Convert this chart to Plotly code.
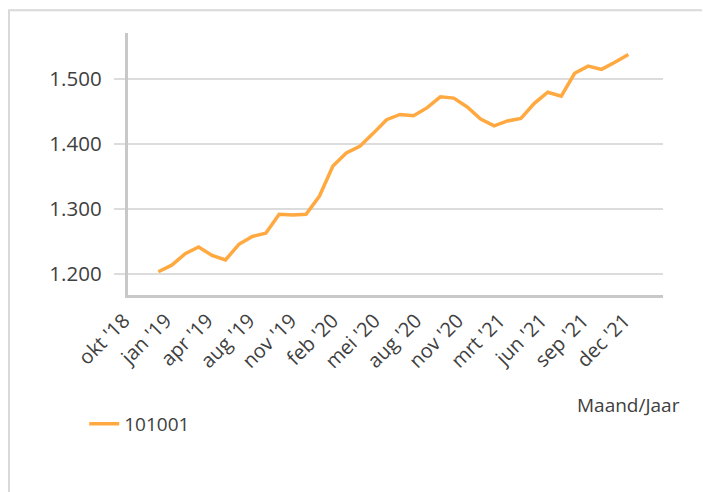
import plotly.graph_objects as go

months = ["jan '19", "feb '19", "mrt '19", "apr '19", "mei '19", "jun '19", "jul '19", "aug '19", "sep '19", "okt '19", "nov '19", "dec '19",
          "jan '20", "feb '20", "mrt '20", "apr '20", "mei '20", "jun '20", "jul '20", "aug '20", "sep '20", "okt '20", "nov '20", "dec '20",
          "jan '21", "feb '21", "mrt '21", "apr '21", "mei '21", "jun '21", "jul '21", "aug '21", "sep '21", "okt '21", "nov '21", "dec '21"]
values = [1204, 1214, 1231.5, 1242, 1229, 1222, 1246, 1258, 1263, 1292, 1291, 1292,
          1320, 1366, 1386, 1396, 1416, 1437, 1445, 1443, 1455, 1472, 1470, 1456.5,
          1438, 1427.5, 1435, 1439, 1462, 1479, 1473, 1508, 1519, 1514, 1525, 1537]
axis_labels = ["okt '18", "jan '19", "apr '19", "aug '19", "nov '19", "feb '20", "mei '20",
               "aug '20", "nov '20", "mrt '21", "jun '21", "sep '21", "dec '21"]
series_name = "101001"
x_title = "Maand/Jaar"

FONT = "Open Sans, Noto Sans, sans-serif"
TXT = "#404040"
label_pos = list(range(len(axis_labels)))

fig = go.Figure()
# empty helper trace so the label axis (x2/y2) gets drawn
fig.add_trace(go.Scatter(x=label_pos, y=[None] * len(label_pos), xaxis="x2", yaxis="y2",
                         mode="lines", showlegend=False, hoverinfo="skip"))
fig.add_trace(go.Scatter(x=months, y=values, mode="lines", name=series_name,
                         xaxis="x", yaxis="y",
                         line=dict(color="#FFA940", width=3.5)))

fig.update_layout(
    width=702, height=484,
    margin=dict(l=32, r=47, t=25, b=197),
    paper_bgcolor="white", plot_bgcolor="rgba(0,0,0,0)",
    separators=",.",
    font=dict(family=FONT, color=TXT, size=20),
    showlegend=True,
    legend=dict(orientation="h", x=0.071, xanchor="left", y=-0.492, yanchor="middle",
                font=dict(size=19, color=TXT), bgcolor="rgba(0,0,0,0)"),
    xaxis=dict(type="category", domain=[0.1408, 1], range=[-2.28, 37.58], anchor="y",
               showticklabels=False, showgrid=False, zeroline=False, ticks="",
               showline=True, linecolor="#c8c8c8", linewidth=3),
    yaxis=dict(anchor="x", domain=[0, 1], range=[1168.3, 1569.8], tick0=0, dtick=100, tickformat=",d",
               showgrid=True, gridcolor="#dcdcdc", gridwidth=2, zeroline=False,
               showline=True, linecolor="#c8c8c8", linewidth=3,
               ticks="outside", ticklen=11, tickcolor="#dcdcdc", tickwidth=2,
               ticklabelstandoff=8,
               tickfont=dict(size=20.5, color=TXT)),
    xaxis2=dict(anchor="y2", domain=[0, 1], range=[-2.014, 12.926],
                tickmode="array", tickvals=label_pos, ticktext=axis_labels,
                tickangle=-45, showgrid=False, zeroline=False, showline=False,
                ticks="outside", ticklen=5, tickcolor="rgba(0,0,0,0)",
                tickfont=dict(size=20, color=TXT)),
    yaxis2=dict(anchor="x2", domain=[0, 1], range=[0, 1], showgrid=False, zeroline=False,
                showline=False, showticklabels=False, ticks=""),
    annotations=[dict(text=x_title, xref="paper", yref="paper", x=1.03, y=-0.419,
                      xanchor="right", yanchor="middle", showarrow=False,
                      font=dict(size=19, color=TXT))],
    shapes=[dict(type="rect", xref="paper", yref="paper", x0=-0.0498, x1=1.09,
                 y0=-0.77, y1=1.087, line=dict(color="#d9d9d9", width=2),
                 fillcolor="rgba(0,0,0,0)", layer="below")],
)

fig.write_html("out.html")
